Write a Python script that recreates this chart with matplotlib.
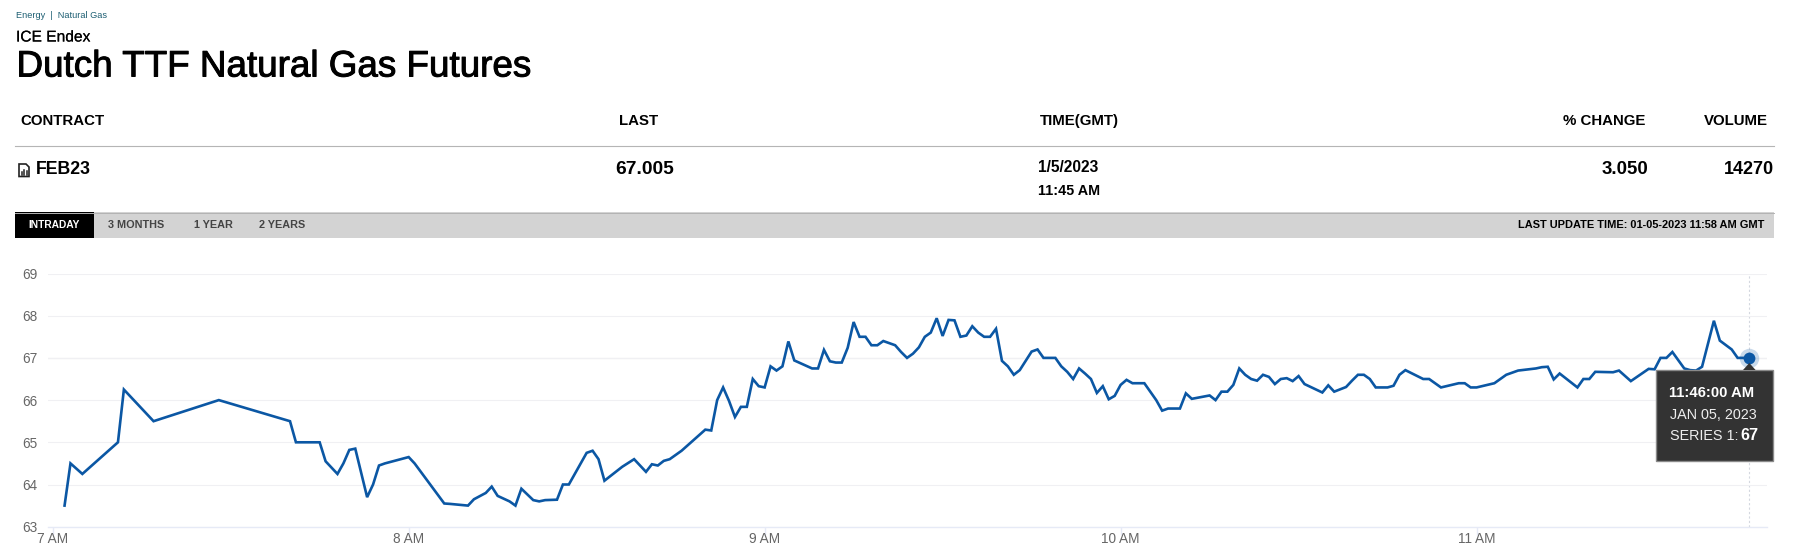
import matplotlib
matplotlib.use("Agg")
import matplotlib.pyplot as plt
import matplotlib.patheffects as pe
from matplotlib.patches import Rectangle, Polygon

W, H = 1797, 555

# minutes after 7:00 AM, and price
minutes = [2, 3, 5, 11, 12, 17, 28, 40, 41, 45, 46, 48, 49, 50, 51, 53, 54, 55, 56, 60, 61, 66, 67,
           70, 71, 73, 74, 75, 77, 78, 79, 81, 82, 83, 85, 86, 87, 90, 91, 92, 93, 96, 98,
           100, 101, 102, 103, 104, 106, 110, 111, 112, 113, 114, 115, 116, 117, 118, 119, 120,
           121, 122, 123, 124, 125, 128, 129, 130, 131, 132, 133, 134, 135, 136, 137, 138, 139, 140, 142,
           143, 144, 145, 146, 147, 148, 149, 150, 151, 152, 153, 154, 155, 156, 157, 158, 159, 160,
           161, 162, 163, 165, 166, 167, 169, 170, 171, 172, 173, 174, 175, 176, 177, 178, 179, 180,
           181, 182, 184, 186, 187, 188, 190, 191, 192, 195, 196, 197, 198, 199, 200,
           201, 202, 203, 204, 205, 206, 207, 208, 209, 210, 211, 214, 215, 216, 218, 219, 220,
           221, 222, 223, 225, 226, 227, 228, 231, 232, 234, 237, 238, 239, 240,
           243, 245, 247, 250, 251, 252, 253, 254, 257, 258, 259, 260,
           263, 264, 266, 269, 270, 271, 272, 273, 275, 276, 277, 278, 280, 281, 283, 284, 285, 286]
prices = [63.5, 64.5, 64.25, 65.0, 66.25, 65.5, 66.0, 65.5, 65.0, 65.0, 64.55, 64.25, 64.5, 64.82, 64.85, 63.7, 64.0, 64.45, 64.5, 64.65, 64.5, 63.55, 63.54,
          63.5, 63.65, 63.8, 63.95, 63.73, 63.6, 63.5, 63.9, 63.63, 63.6, 63.63, 63.64, 64.0, 64.0, 64.75, 64.8, 64.6, 64.09, 64.42, 64.6,
          64.3, 64.48, 64.45, 64.56, 64.6, 64.8, 65.3, 65.28, 66.0, 66.3, 65.98, 65.6, 65.84, 65.84, 66.5, 66.33, 66.3,
          66.8, 66.7, 66.8, 67.39, 66.94, 66.75, 66.75, 67.19, 66.92, 66.89, 66.89, 67.24, 67.85, 67.5, 67.5, 67.3, 67.3, 67.4, 67.3,
          67.14, 67.0, 67.1, 67.25, 67.5, 67.6, 67.94, 67.52, 67.9, 67.89, 67.5, 67.53, 67.75, 67.6, 67.5, 67.5, 67.69, 66.93,
          66.8, 66.6, 66.71, 67.15, 67.2, 67.0, 67.0, 66.8, 66.67, 66.5, 66.75, 66.63, 66.5, 66.17, 66.33, 66.02, 66.1, 66.36,
          66.48, 66.4, 66.4, 66.0, 65.75, 65.8, 65.8, 66.16, 66.03, 66.11, 66.0, 66.2, 66.2, 66.36, 66.75,
          66.6, 66.5, 66.46, 66.6, 66.55, 66.38, 66.5, 66.52, 66.45, 66.57, 66.38, 66.18, 66.35, 66.2, 66.31, 66.46, 66.6,
          66.6, 66.5, 66.3, 66.3, 66.34, 66.6, 66.71, 66.5, 66.5, 66.3, 66.4, 66.4, 66.3, 66.3,
          66.4, 66.6, 66.7, 66.75, 66.78, 66.79, 66.49, 66.63, 66.3, 66.5, 66.5, 66.67,
          66.66, 66.7, 66.45, 66.74, 66.73, 67.0, 67.0, 67.14, 66.75, 66.71, 66.7, 66.79, 67.88, 67.41, 67.2, 67.0, 67.0, 67.0]

y_ticks = [63, 64, 65, 66, 67, 68, 69]
x_ticks = [0, 60, 120, 180, 240]
x_labels = ["7 AM", "8 AM", "9 AM", "10 AM", "11 AM"]

headers = [("CONTRACT", 20.5, "left"), ("LAST", 619, "left"), ("TIME(GMT)", 1040, "left"),
           ("% CHANGE", 1645, "right"), ("VOLUME", 1768, "right")]
tabs = [("3 MONTHS", 108.5), ("1 YEAR", 194), ("2 YEARS", 259)]

plt.rcParams['font.family'] = ['Liberation Sans', 'DejaVu Sans']

fig = plt.figure(figsize=(W / 100, H / 100), dpi=100)

# the chart
left, right, top, bottom = 48, 1767, 273.5, 526.7
ax = fig.add_axes([left / W, 1 - bottom / H, (right - left) / W, (bottom - top) / H])
ax.plot(minutes, prices, color="#0b57a4", lw=1.9, solid_joinstyle="miter", zorder=3)
ax.set_xlim(-0.79, 288.95)
ax.set_ylim(63, 69)
ax.set_yticks(y_ticks)
ax.set_xticks(x_ticks)
ax.set_xticklabels(x_labels)
ax.grid(axis="y", color="#f0f0f3", lw=0.8)
ax.axhline(67, color="#d6d6d6", lw=0.8, zorder=1)
ax.axvline(minutes[-1], color="#d4d8e0", lw=0.8, ls=(0, (2, 2)), zorder=1)
for s in ["top", "left", "right"]:
    ax.spines[s].set_visible(False)
ax.spines["bottom"].set_color("#e6eaf6")
ax.spines["bottom"].set_linewidth(1)
ax.tick_params(axis="y", length=0, pad=7.7, labelsize=9.8, labelcolor="#666666")
ax.tick_params(axis="x", length=6, width=1, color="#e6eaf6", pad=-2.2, labelsize=9.8, labelcolor="#666666")
ax.plot(minutes[-1], prices[-1], "o", ms=14, color="#0b57a4", alpha=0.22, mew=0, clip_on=False, zorder=4)
ax.plot(minutes[-1], prices[-1], "o", ms=8.5, color="#0b57a4", mew=0, clip_on=False, zorder=5)

# page furniture, drawn in pixel coordinates
page = fig.add_axes([0, 0, 1, 1], zorder=5)
page.set_xlim(0, W)
page.set_ylim(H, 0)
page.axis("off")


def label(x, y, s, size, color="black", weight="normal", ha="left", **kw):
    return page.text(x, y, s, fontsize=size, color=color, fontweight=weight, ha=ha, va="center", **kw)


label(15.5, 16, "Energy  |  Natural Gas", 6.6, color="#1d5f73")
label(16, 37, "ICE Endex", 11.2, path_effects=[pe.withStroke(linewidth=0.1, foreground="black")])
label(16.5, 67, "Dutch TTF Natural Gas Futures", 26.5,
      path_effects=[pe.withStroke(linewidth=0.7, foreground="black")])

for text, x, ha in headers:
    label(x, 121, text, 10.8, weight="bold", ha=ha)
page.plot([15, 1774], [146, 146], color="#b5b5b5", lw=0.8)

# contract icon
page.add_patch(Polygon([(19, 164), (26, 164), (29, 167), (29, 176.5), (19, 176.5)], closed=True,
                       fc="white", ec="#222222", lw=1.2))
for x, h in zip([21.5, 24, 26.5], [3, 5, 4]):
    page.plot([x, x], [175, 175 - h], color="#222222", lw=1.1)

label(36, 170, "FEB23", 12.8, weight="bold")
label(615, 170, "67.005", 13.8, weight="bold")
label(1038, 167, "1/5/2023", 11.2, weight="bold")
label(1038, 191, "11:45 AM", 10.4, weight="bold")
label(1648, 170, "3.050", 13.4, weight="bold", ha="right")
label(1774, 170, "14270", 13, weight="bold", ha="right")

# tab bar
page.add_patch(Rectangle((15, 212), 1759, 26, fc="#d3d3d3", ec="none"))
page.plot([15, 1774], [212.5, 212.5], color="#b3b3b3", lw=0.7)
page.add_patch(Rectangle((15, 212), 79, 26, fc="black", ec="none"))
label(54.5, 225, "INTRADAY", 7.4, color="white", weight="bold", ha="center")
for text, x in tabs:
    label(x, 225, text, 7.8, color="#444444", weight="bold")
label(1764, 225, "LAST UPDATE TIME: 01-05-2023 11:58 AM GMT", 7.9, weight="bold", ha="right")

# tooltip
page.add_patch(Rectangle((1655.5, 370), 117, 91, fc="#333333", ec="#8a8a8a", lw=1))
page.add_patch(Polygon([(1743, 370), (1749.3, 363), (1755.6, 370)], closed=True, fc="#333333", ec="none"))
label(1669, 393, "11:46:00 AM", 10.7, color="white", weight="bold")
label(1669.5, 415, "JAN 05, 2023", 10.4, color="#eeeeee")
label(1669.5, 436, "SERIES 1:", 10.4, color="#eeeeee")
label(1740.5, 436, "67", 11.6, color="white", weight="bold")

fig.savefig("out.png", dpi=100)
